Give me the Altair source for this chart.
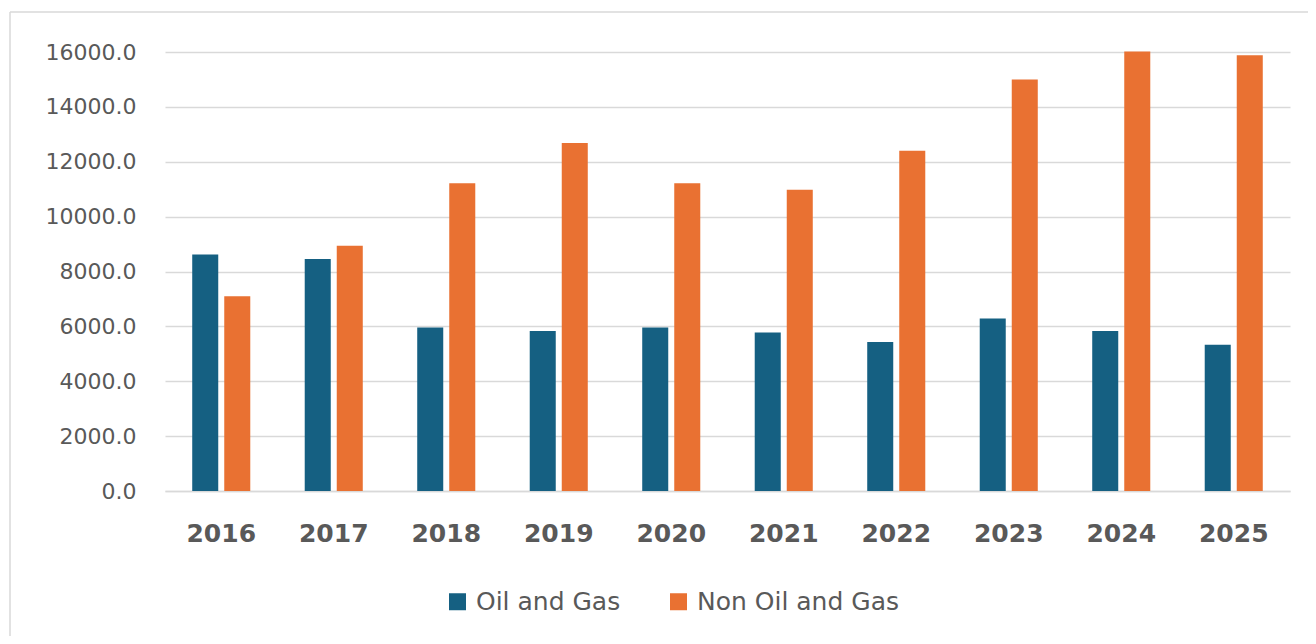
import altair as alt
import pandas as pd

years = ["2016", "2017", "2018", "2019", "2020", "2021", "2022", "2023", "2024", "2025"]
oil_and_gas = [8620, 8460, 5960, 5830, 5960, 5780, 5430, 6290, 5830, 5330]
non_oil_and_gas = [7100, 8940, 11220, 12680, 11220, 10980, 12400, 15000, 16020, 15880]
series_names = ["Oil and Gas", "Non Oil and Gas"]
series_colors = ["#156082", "#E97132"]
y_ticks = [0, 2000, 4000, 6000, 8000, 10000, 12000, 14000, 16000]

rows = []
for i, yr in enumerate(years):
    rows.append({"year": yr, "series": series_names[0], "value": oil_and_gas[i]})
    rows.append({"year": yr, "series": series_names[1], "value": non_oil_and_gas[i]})
df = pd.DataFrame(rows)

TEXT = "#595959"
GRID = "#D9D9D9"
FONT = "DejaVu Sans"

one = alt.Data(values=[{}])
frame_left = alt.Chart(one).mark_rule(color=GRID, strokeWidth=1.5, clip=False).encode(
    x=alt.value(-155), y=alt.value(-40), y2=alt.value(620)
)
frame_top = alt.Chart(one).mark_rule(color=GRID, strokeWidth=1.5, clip=False).encode(
    x=alt.value(-155), x2=alt.value(1180), y=alt.value(-40)
)

bars = alt.Chart(df).mark_bar().encode(
    x=alt.X(
        "year:N",
        sort=years,
        title=None,
        scale=alt.Scale(paddingInner=0.484, paddingOuter=0.242),
        axis=alt.Axis(
            labelAngle=0,
            labelFont=FONT,
            labelFontSize=25,
            labelFontWeight="bold",
            labelColor=TEXT,
            labelPadding=30,
            ticks=False,
            domain=True,
            domainColor=GRID,
            domainWidth=1.5,
            grid=False,
        ),
    ),
    xOffset=alt.XOffset(
        "series:N",
        sort=series_names,
        scale=alt.Scale(paddingInner=0.1875, paddingOuter=0),
    ),
    y=alt.Y(
        "value:Q",
        title=None,
        scale=alt.Scale(domain=[0, 16000], nice=False),
        axis=alt.Axis(
            values=y_ticks,
            format=".1f",
            labelFont=FONT,
            labelFontSize=22,
            labelColor=TEXT,
            labelPadding=29,
            ticks=False,
            domain=False,
            grid=True,
            gridColor=GRID,
            gridWidth=1.5,
        ),
    ),
    color=alt.Color(
        "series:N",
        sort=series_names,
        scale=alt.Scale(domain=series_names, range=series_colors),
        legend=alt.Legend(
            title=None,
            orient="none",
            legendX=280,
            legendY=537,
            direction="horizontal",
            symbolType="square",
            symbolSize=289,
            symbolStrokeWidth=0,
            labelFont=FONT,
            labelFontSize=25,
            labelColor=TEXT,
            labelOffset=6,
            labelLimit=500,
            columnPadding=45,
        ),
    ),
)

chart = alt.layer(frame_left, frame_top, bars).properties(
    width=1125,
    height=439,
    background="white",
    autosize=alt.AutoSizeParams(type="none"),
    padding={"left": 157, "top": 44, "right": 18, "bottom": 145},
).configure_view(strokeWidth=0, strokeOpacity=0, stroke="transparent")

chart.save("out.html", embed_options={"renderer": "svg", "actions": False})
